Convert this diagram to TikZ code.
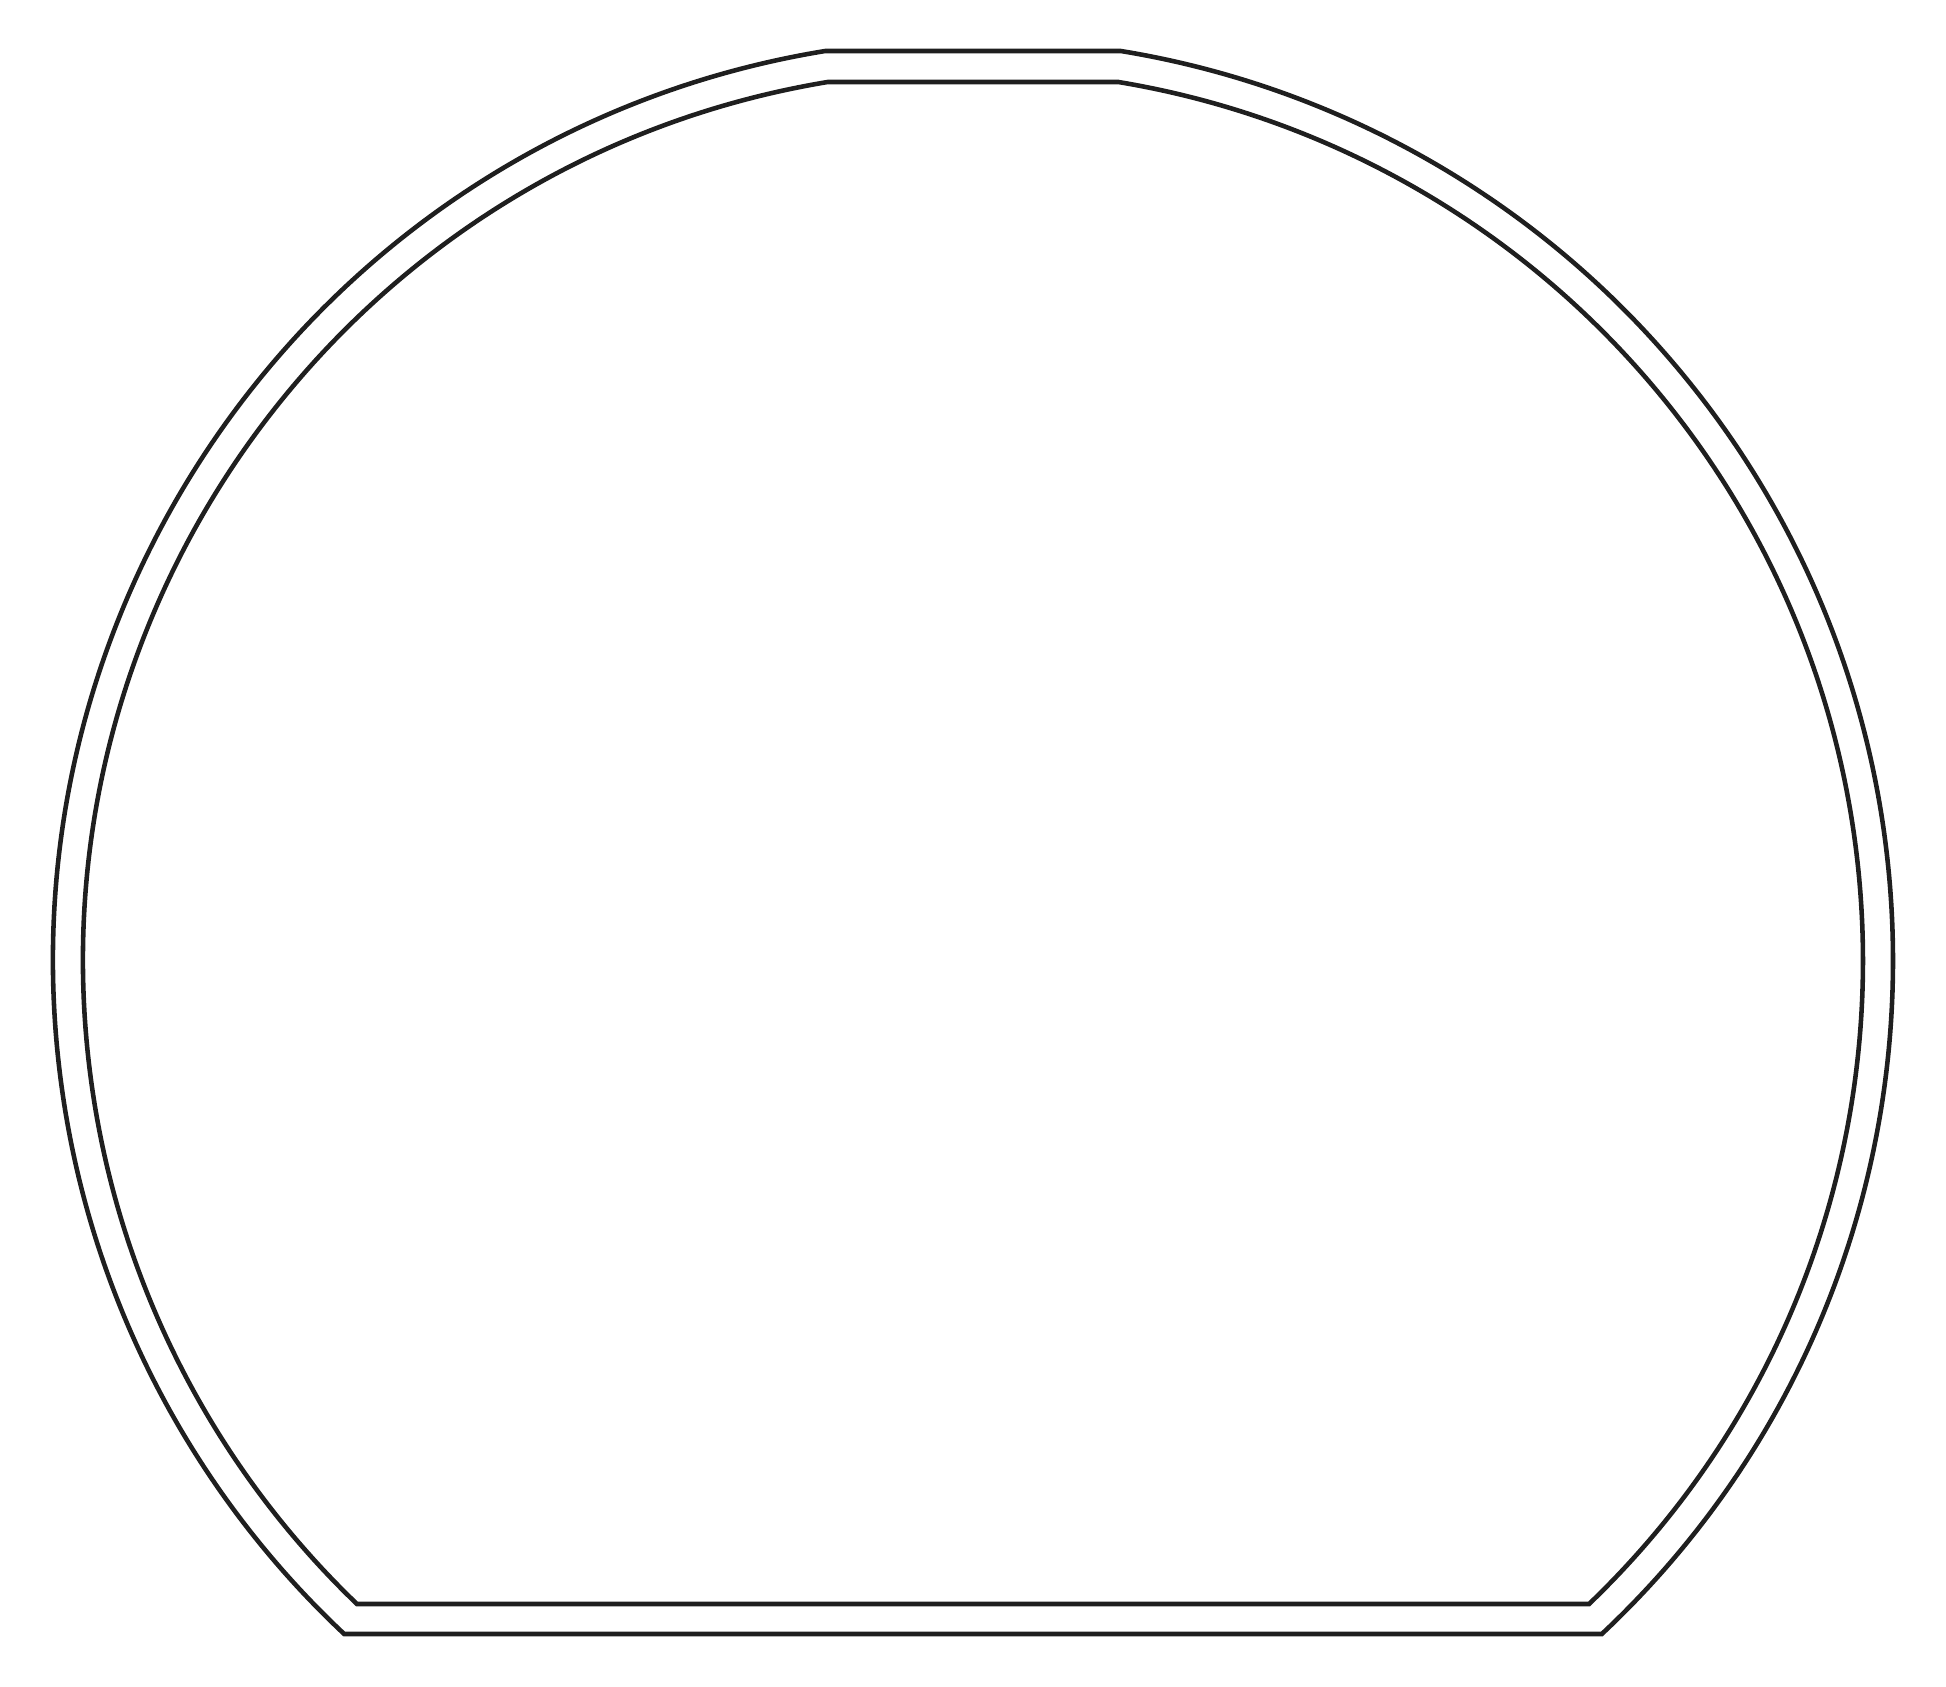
\documentclass[tikz,border=0pt]{standalone}
\usepackage{tikz}

\begin{document}
\begin{tikzpicture}[outline/.style = {draw=black!88, line width=1.3pt, line join=miter}]
  \useasboundingbox (0, 0) rectangle (19.46, -16.87);
  \coordinate (centre) at (9.73, -9.61);

  % Outlines: x radius / y radius / top chord / bottom chord (distance from centre).
  \foreach \rx/\ry/\dtop/\dbot in {9.20/9.22/9.10/6.73, 8.90/8.91/8.79/6.43} {
    \pgfmathsetmacro{\angtop}{asin(\dtop/\ry)}
    \pgfmathsetmacro{\angbot}{asin(\dbot/\ry)}
    \draw [outline] ([shift={(centre)}] {180-\angtop}: \rx cm and \ry cm)
          arc [start angle={180-\angtop}, end angle={180+\angbot}, x radius=\rx, y radius=\ry]
          -- ([shift={(centre)}] {-\angbot}: \rx cm and \ry cm)
          arc [start angle={-\angbot}, end angle={\angtop}, x radius=\rx, y radius=\ry]
          -- cycle;
  }
\end{tikzpicture}
\end{document}
